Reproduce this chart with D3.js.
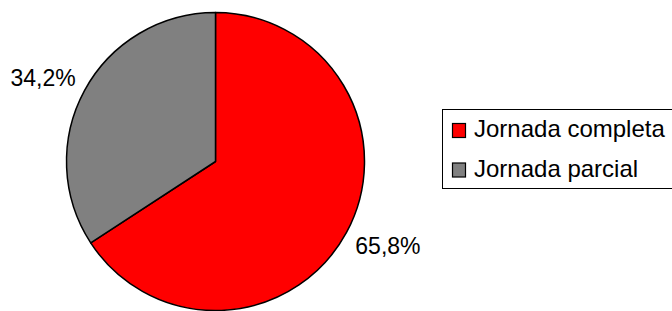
<!DOCTYPE html>
<html>
<head>
<meta charset="utf-8">
<script src="https://cdn.jsdelivr.net/npm/d3@7/dist/d3.min.js"></script>
<style>
  html, body { margin: 0; padding: 0; background: #fff; }
  svg { display: block; font-family: "Liberation Sans", Arial, sans-serif; }
</style>
</head>
<body>
<div id="chart"></div>
<script>
// Chart data
const categories = ['Jornada completa', 'Jornada parcial'];
const values = [65.8, 34.2];
const valueLabels = ['65,8%', '34,2%'];
const colors = ['#ff0000', '#808080'];

const width = 672;
const height = 311;
const center = { x: 215.5, y: 161.5 };
const radius = 149;
const labelRadius = 159;

const svg = d3.select('#chart')
  .append('svg')
  .attr('width', width)
  .attr('height', height);

const pie = d3.pie().sort(null).value(d => d.value);
const arcs = pie(categories.map((c, i) => ({ name: c, value: values[i], label: valueLabels[i], color: colors[i] })));

const arc = d3.arc().innerRadius(0).outerRadius(radius);

const g = svg.append('g')
  .attr('transform', `translate(${center.x},${center.y})`);

g.selectAll('path')
  .data(arcs)
  .enter()
  .append('path')
  .attr('d', arc)
  .attr('fill', d => d.data.color)
  .attr('stroke', '#000')
  .attr('stroke-width', 1.5)
  .attr('stroke-linejoin', 'round');

// Labels: the corner nearest the pie sits on the label radius
g.selectAll('text.pct')
  .data(arcs)
  .enter()
  .append('text')
  .attr('class', 'pct')
  .each(function(d) {
    const a = (d.startAngle + d.endAngle) / 2;
    const x = labelRadius * Math.sin(a);
    const y = -labelRadius * Math.cos(a);
    d3.select(this)
      .attr('x', x)
      .attr('y', y)
      .attr('dy', Math.cos(a) > 0 ? 0 : '0.72em')
      .attr('text-anchor', Math.sin(a) > 0 ? 'start' : 'end');
  })
  .attr('font-size', '23px')
  .attr('fill', '#000')
  .text(d => d.data.label);

// Legend
const legend = svg.append('g');
legend.append('rect')
  .attr('x', 442.5)
  .attr('y', 109.5)
  .attr('width', 240)
  .attr('height', 79)
  .attr('fill', '#fff')
  .attr('stroke', '#000')
  .attr('stroke-width', 1);

const rows = legend.selectAll('g.row')
  .data(categories)
  .enter()
  .append('g')
  .attr('class', 'row')
  .attr('transform', (d, i) => `translate(0,${i * 39.5})`);

rows.append('rect')
  .attr('x', 452.5)
  .attr('y', 123.5)
  .attr('width', 13)
  .attr('height', 14)
  .attr('fill', (d, i) => colors[i])
  .attr('stroke', '#000')
  .attr('stroke-width', 1.2);

rows.append('text')
  .attr('x', 474)
  .attr('y', 137)
  .attr('font-size', '24px')
  .attr('fill', '#000')
  .text(d => d);
</script>
</body>
</html>
